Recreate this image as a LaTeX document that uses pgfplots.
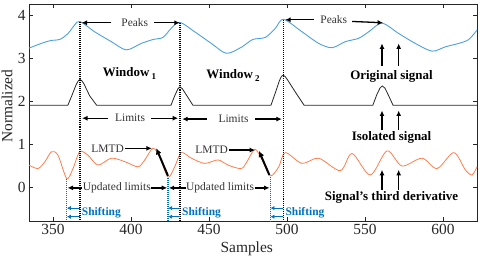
\documentclass[border=0pt]{standalone}
\usepackage{fontspec}
\setmainfont{Liberation Serif}
\usepackage{pgfplots}
\pgfplotsset{compat=1.18}
\usetikzlibrary{arrows.meta}
\definecolor{mblue}{RGB}{77,160,222}
\definecolor{morange}{RGB}{255,125,75}
\definecolor{sblue}{RGB}{0,114,189}
\definecolor{axgray}{RGB}{38,38,38}
\tikzset{
 ann/.style={font=\fontsize{11.5}{12}\selectfont, text=black!80, inner sep=1pt},
 bl/.style={font=\bfseries\fontsize{13}{14}\selectfont, inner sep=1pt},
 sh/.style={font=\bfseries\fontsize{11.5}{12}\selectfont, text=sblue, inner sep=1pt, anchor=west},
 arr/.style={-{Latex[length=5.5pt,width=5pt]}, line width=1.3pt},
 barr/.style={-{Latex[length=4pt,width=4.5pt]}, line width=1.1pt, sblue},
 tarr/.style={-{Latex[length=6pt,width=6pt]}, line width=2pt},
 dotl/.style={line width=1.5pt, dash pattern=on 0.9pt off 1.1pt},
}
\begin{document}
\begin{tikzpicture}
\begin{axis}[
 scale only axis, width=448bp, height=217bp,
 xmin=334.6, xmax=621.8, ymin=-0.79, ymax=4.256,
 xtick={350,400,...,600}, ytick={0,1,2,3,4},
 tick align=inside, major tick length=4bp,
 axis line style={axgray, line width=0.6pt},
 tick style={axgray, line width=0.6pt},
 ticklabel style={font=\fontsize{15.5}{15.5}\selectfont, text=axgray},
 /pgf/number format/assume math mode=true,
 xlabel={Samples}, ylabel={Normalized},
 every axis x label/.style={at={(axis description cs:0.486,-0.146)},anchor=base,font=\fontsize{15.5}{15.5}\selectfont,text=axgray},
 every axis y label/.style={at={(axis description cs:-0.037,0.53)},anchor=base,rotate=90,font=\fontsize{15.5}{15.5}\selectfont,text=axgray},
 clip=false,
]
\coordinate (BL) at (rel axis cs:0,0);
\coordinate (TR) at (rel axis cs:1,1);
% original signal
\addplot[mblue, line width=0.9pt, smooth] coordinates {
(334.6,3.23) (342.5,3.34) (349,3.41) (354.3,3.43) (359.6,3.57) (363.9,3.77) (367.2,3.85)
(376.7,3.61) (387.4,3.38) (397,3.19) (406.6,3.34) (414.1,3.43) (420.5,3.48) (425.8,3.69)
(431.3,3.83) (440.8,3.61) (451.5,3.34) (461.1,3.11) (470.7,3.25) (478,3.43) (486.1,3.48)
(492.5,3.69) (497.7,3.9) (509.6,3.61) (520.3,3.34) (528.8,3.24) (537.4,3.38) (546,3.46)
(552.4,3.61) (560.9,3.81) (571.6,3.57) (582.2,3.34) (593,3.16) (601.5,3.26) (610.1,3.34)
(616.5,3.43) (621.8,3.65)};
% isolated signal
\addplot[black!85, line width=0.8pt] coordinates {
(334.6,1.9) (359.5,1.9) (362,2.12) (364.8,2.38) (366.2,2.47) (367.3,2.5) (368.5,2.47) (369.8,2.4) (373.5,2.12) (378,1.9)
(425.6,1.9) (428,2.12) (430,2.28) (431.4,2.33) (433,2.28) (436.2,2.1) (439.7,1.9)
(489.7,1.9) (492.6,2.2) (495.2,2.48) (496.4,2.57) (497.5,2.6) (498.8,2.57) (500.2,2.5) (505.5,2.2) (511,1.9)
(555,1.9) (557.6,2.15) (559.6,2.3) (561,2.35) (562.8,2.3) (565.2,2.12) (568,1.9) (621.8,1.9)};
% third derivative
\addplot[morange, line width=0.8pt, smooth] coordinates {
(334.6,0.51) (340.4,0.43) (345,0.6) (349,0.82) (353.2,0.74) (358.8,0.2) (362.8,0.43)
(367.1,0.82) (372.4,0.74) (378.8,0.51) (387.4,0.67) (396,0.59) (404.5,0.47) (408.8,0.63)
(414.1,0.9) (418.4,0.7) (423.7,0.23) (428,0.47) (432.2,0.8) (438.7,0.67) (447.2,0.55)
(455.8,0.63) (462.2,0.51) (470.7,0.43) (474.5,0.6) (479.5,0.88) (484,0.63) (489.3,0.26)
(494.7,0.47) (498.9,0.8) (509.6,0.55) (520.3,0.67) (534.2,0.38) (541.7,0.78) (553.4,0.28)
(564.1,0.84) (573.7,0.49) (586.5,0.67) (596.2,0.43) (606.9,0.8) (614.3,0.4) (618.6,0.28)
(621.8,0.47)};
% dotted lines
\draw[dotl, black] (axis cs:367.3,3.84) -- (axis cs:367.3,-0.79);
\draw[dotl, black] (axis cs:431.4,3.82) -- (axis cs:431.4,-0.79);
\draw[dotl, black] (axis cs:497.7,3.88) -- (axis cs:497.7,-0.79);
\draw[dotl, sblue] (axis cs:358.8,0.18) -- (axis cs:358.8,-0.79);
\draw[dotl, sblue] (axis cs:423.7,0.21) -- (axis cs:423.7,-0.79);
\draw[dotl, sblue] (axis cs:489.3,0.24) -- (axis cs:489.3,-0.79);
% Peaks
\node[ann] at (axis cs:402.4,3.82) {Peaks};
\draw[arr] (axis cs:387.4,3.82) -- (axis cs:368.3,3.82);
\draw[arr] (axis cs:414.7,3.82) -- (axis cs:431.3,3.82);
\node[ann] at (axis cs:530,3.89) {Peaks};
\draw[arr] (axis cs:517,3.89) -- (axis cs:498.8,3.89);
\draw[arr] (axis cs:541.7,3.85) -- (axis cs:561.6,3.82);
% windows and labels
\node[bl] at (axis cs:399,2.63) {Window\,\raisebox{-0.5ex}{\fontsize{9}{9}\selectfont 1}};
\node[bl] at (axis cs:465.4,2.6) {Window\,\raisebox{-0.5ex}{\fontsize{9}{9}\selectfont 2}};
\node[bl] at (axis cs:567,2.58) {Original signal};
\node[bl] at (axis cs:567,1.16) {Isolated signal};
\node[bl] at (axis cs:567,-0.25) {Signal's third derivative};
\draw[arr, line width=1.5pt] (axis cs:560.9,2.82) -- (axis cs:560.9,3.34);
\draw[arr, line width=1.5pt] (axis cs:571.6,2.82) -- (axis cs:571.6,3.34);
\draw[arr, line width=1.5pt] (axis cs:560.9,1.32) -- (axis cs:560.9,1.78);
\draw[arr, line width=1.5pt] (axis cs:571.6,1.32) -- (axis cs:571.6,1.78);
\draw[arr, line width=1.5pt] (axis cs:560.9,-0.06) -- (axis cs:560.9,0.4);
\draw[arr, line width=1.5pt] (axis cs:571.6,-0.06) -- (axis cs:571.6,0.4);
% Limits
\node[ann] at (axis cs:399.4,1.6) {Limits};
\draw[arr] (axis cs:385.3,1.6) -- (axis cs:368.6,1.6);
\draw[arr] (axis cs:413,1.6) -- (axis cs:430.2,1.6);
\node[ann] at (axis cs:465.7,1.58) {Limits};
\draw[arr] (axis cs:448.5,1.58) -- (axis cs:432.8,1.58);
\draw[arr] (axis cs:479.5,1.58) -- (axis cs:496.7,1.58);
% LMTD
\node[ann] (L1) at (axis cs:385,0.9) {LMTD};
\draw[arr] (L1.east) -- (axis cs:413.4,0.9);
\draw[tarr] (axis cs:423.7,0.26) -- (axis cs:416.2,0.9);
\node[ann] (L2) at (axis cs:451.7,0.86) {LMTD};
\draw[arr] (L2.east) -- (axis cs:479.6,0.86);
\draw[tarr] (axis cs:488.7,0.28) -- (axis cs:482,0.84);
% Updated limits
\node[ann, inner sep=0.5pt] (U1) at (axis cs:390.9,-0.02) {Updated limits};
\draw[arr] (U1.west) -- (U1.west -| {axis cs:359.3,0});
\draw[arr] (U1.east) -- (U1.east -| {axis cs:423.2,0});
\node[ann, inner sep=0.5pt] (U2) at (axis cs:457.1,-0.02) {Updated limits};
\draw[arr] (U2.west) -- (U2.west -| {axis cs:424.2,0});
\draw[arr] (U2.east) -- (U2.east -| {axis cs:488.8,0});
% Shifting
\draw[barr] (axis cs:367.3,-0.49) -- (axis cs:358.9,-0.49);
\draw[barr] (axis cs:367.3,-0.69) -- (axis cs:358.9,-0.69);
\node[sh] at (axis cs:367.8,-0.6) {Shifting};
\draw[barr] (axis cs:431.4,-0.49) -- (axis cs:423.8,-0.49);
\draw[barr] (axis cs:431.4,-0.69) -- (axis cs:423.8,-0.69);
\node[sh] at (axis cs:432,-0.6) {Shifting};
\draw[barr] (axis cs:497.7,-0.49) -- (axis cs:489.4,-0.49);
\draw[barr] (axis cs:497.7,-0.69) -- (axis cs:489.4,-0.69);
\node[sh] at (axis cs:498.3,-0.6) {Shifting};
\end{axis}
\pgfresetboundingbox
\path ([shift={(-29bp,-40bp)}]BL) rectangle ([shift={(3bp,4bp)}]TR);
\end{tikzpicture}
\end{document}
